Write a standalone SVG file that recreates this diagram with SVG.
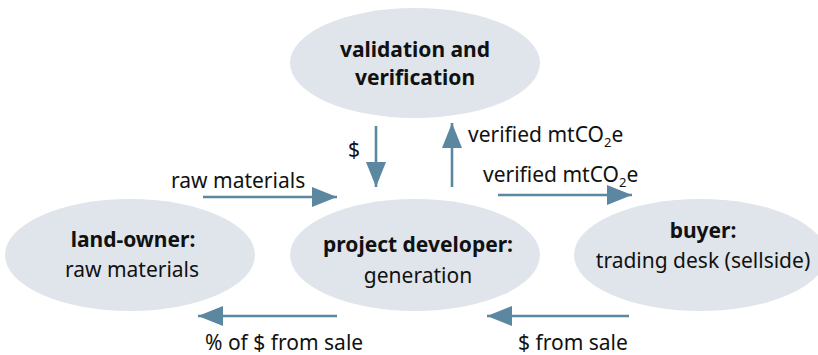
<svg xmlns="http://www.w3.org/2000/svg" width="818" height="355" viewBox="0 0 818 355">
<defs>
<style>
.node ellipse{fill:#dfe5eb;}
text{font-family:"Noto Sans","Open Sans","DejaVu Sans",sans-serif;font-size:21px;fill:#111;}
.b{font-weight:bold;}
.c{text-anchor:middle;}
.conn line{stroke:#5b87a1;stroke-width:2.6;}
.sub{font-size:13px;}
</style>
<marker id="ah" markerUnits="userSpaceOnUse" markerWidth="26" markerHeight="20" refX="25" refY="10" orient="auto">
<polygon points="0,0 25,10 0,20" fill="#5b87a1"/>
</marker>
</defs>
<rect width="818" height="355" fill="#fff"/>
<g id="node-validation" class="node">
<ellipse cx="415" cy="63" rx="125" ry="55"/>
<text class="b c" x="415" y="57">validation and</text>
<text class="b c" x="415" y="85">verification</text>
</g>
<g id="node-landowner" class="node">
<ellipse cx="130" cy="255" rx="125" ry="56"/>
<text class="b c" x="133" y="247">land-owner:</text>
<text class="c" x="132" y="277">raw materials</text>
</g>
<g id="node-developer" class="node">
<ellipse cx="415" cy="255" rx="125" ry="56"/>
<text class="b c" x="418" y="252">project developer:</text>
<text class="c" x="418" y="283">generation</text>
</g>
<g id="node-buyer" class="node">
<ellipse cx="700" cy="255" rx="126" ry="56"/>
<text class="b c" x="703" y="238">buyer:</text>
<text class="c" x="703" y="268">trading desk (sellside)</text>
</g>
<g id="connectors" class="conn">
<line x1="376" y1="126" x2="376" y2="187" marker-end="url(#ah)"/>
<line x1="452" y1="187" x2="452" y2="123" marker-end="url(#ah)"/>
<line x1="203" y1="197" x2="337" y2="197" marker-end="url(#ah)"/>
<line x1="498" y1="195" x2="632" y2="195" marker-end="url(#ah)"/>
<line x1="337" y1="316" x2="198" y2="316" marker-end="url(#ah)"/>
<line x1="629" y1="316" x2="487" y2="316" marker-end="url(#ah)"/>
<text x="348" y="157">$</text>
<text x="468" y="142">verified mtCO<tspan class="sub" dy="5">2</tspan><tspan dy="-5">e</tspan></text>
<text x="483" y="182">verified mtCO<tspan class="sub" dy="5">2</tspan><tspan dy="-5">e</tspan></text>
<text x="171" y="188">raw materials</text>
<text x="205" y="350">% of $ from sale</text>
<text x="518" y="350">$ from sale</text>
</g>
</svg>
